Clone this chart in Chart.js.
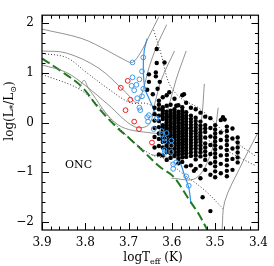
<!DOCTYPE html>
<html><head><meta charset="utf-8">
<script src="https://cdn.jsdelivr.net/npm/chart.js@4.4.0/dist/chart.umd.min.js"></script>
<style>body{margin:0;background:#fff}</style>
</head><body>
<canvas id="c" width="274" height="266"></canvas>
<script>
// evolutionary tracks (logTeff, logL)
const trackSolid = [
  [[3.9,1.88],[3.808,1.69],[3.747,1.44],[3.707,1.25],[3.691,1.21],[3.673,1.40],[3.653,1.73],[3.630,2.13]],
  [[3.9,1.44],[3.844,1.40],[3.770,1.10],[3.709,0.63],[3.680,0.40],[3.666,0.68],[3.653,1.10],[3.635,1.54],[3.612,1.97]],
  [[3.9,1.16],[3.844,1.01],[3.799,0.74],[3.747,0.36],[3.687,-0.08],[3.653,-0.04],[3.639,0.40],[3.624,0.87],[3.594,1.44]],
  [[3.815,0.68],[3.803,0.85],[3.792,0.68],[3.725,-0.04],[3.646,-0.21],[3.624,-0.17],[3.608,0.30],[3.590,0.87],[3.567,1.44]],
  [[3.646,-0.65],[3.579,-0.70],[3.545,-0.46],[3.532,0.02],[3.525,0.78]],
  [[3.601,-1.12],[3.545,-1.12],[3.511,-0.65],[3.500,-0.17],[3.493,0.30]],
  [[3.403,-0.23],[3.444,-0.93],[3.478,-1.59],[3.484,-2.16]]
];
// isochrones
const isoDotted = [
  [[3.642,1.86],[3.624,1.35],[3.606,0.78],[3.579,0.49],[3.534,0.27],[3.466,-0.30],[3.406,-0.68]],
  [[3.9,1.39],[3.844,1.31],[3.799,1.02],[3.747,0.68],[3.696,0.40],[3.657,0.38],[3.612,0.15],[3.523,-0.32],[3.455,-0.65],[3.406,-0.87]],
  [[3.9,0.97],[3.815,0.68],[3.770,0.34],[3.725,-0.08],[3.684,-0.42],[3.646,-0.65],[3.612,-0.74],[3.583,-0.97],[3.523,-1.37],[3.482,-1.73]]
];
const zamsLine = [[3.9,1.29],[3.860,1.06],[3.808,0.72],[3.770,0.30],[3.729,-0.08],[3.698,-0.32],[3.669,-0.55],[3.628,-0.89],[3.597,-1.08],[3.561,-1.54],[3.538,-1.84],[3.518,-2.16]];
const blueLine = [[3.657,1.69],[3.664,1.44],[3.666,1.06],[3.662,0.68],[3.653,0.49],[3.642,0.27],[3.628,0.02],[3.612,-0.30],[3.590,-0.61],[3.579,-0.84],[3.572,-1.03],[3.561,-1.31],[3.556,-1.63]];

const redStars = [[3.702,0.84],[3.718,0.70],[3.696,0.46],[3.707,0.25],[3.687,0.02],[3.676,-0.13],[3.646,-0.40]];
const blueStars = [[3.691,1.21],[3.666,1.31],[3.669,1.03],[3.691,0.91],[3.675,0.87],[3.693,0.74],[3.682,0.76],[3.687,0.65],[3.666,0.68],[3.669,0.53],[3.680,0.49],[3.675,0.30],[3.673,0.25],[3.657,0.11],[3.655,0.02],[3.635,0.08],[3.653,0.15],[3.642,-0.13],[3.624,-0.17],[3.612,-0.21],[3.624,-0.23],[3.617,-0.32],[3.617,-0.38],[3.601,-0.36],[3.601,-0.46],[3.617,-0.55],[3.617,-0.61],[3.601,-0.59],[3.590,-0.80],[3.597,-0.84],[3.597,-0.93],[3.567,-1.08],[3.561,-1.27]];

// spectroscopic sample, grouped by spectral-type Teff column
const blackTeff = [3.640,3.630,3.621,3.612,3.603,3.594,3.585,3.576,3.567,3.556,3.545,3.534,3.523,3.511,3.500,3.487,3.473,3.460,3.448];
const blackLogL = [
  [0.30,0.17,0.04,-0.11,-0.29,-0.50],
  [0.44,0.36,0.27,0.14,0.03,-0.09,-0.22,-0.33,-0.47,-0.64],
  [0.51,0.31,0.25,0.19,0.12,0.07,-0.05,-0.10,-0.16,-0.21,-0.27,-0.33,-0.39,-0.50,-0.66],
  [0.55,0.34,0.22,0.16,0.11,0.05,0.00,-0.06,-0.12,-0.17,-0.23,-0.28,-0.34,-0.40,-0.46,-0.52,-0.59,-0.75],
  [0.36,0.24,0.18,0.13,0.07,0.01,-0.04,-0.10,-0.15,-0.21,-0.26,-0.32,-0.38,-0.43,-0.49,-0.55,-0.62,-0.71],
  [0.48,0.27,0.20,0.14,0.09,0.03,-0.02,-0.08,-0.13,-0.19,-0.25,-0.30,-0.36,-0.42,-0.47,-0.53,-0.60,-0.67],
  [0.35,0.22,0.16,0.11,0.05,-0.01,-0.07,-0.12,-0.18,-0.24,-0.29,-0.35,-0.41,-0.46,-0.52,-0.58,-0.65,-0.73,-0.82],
  [0.55,0.31,0.24,0.18,0.12,0.06,0.00,-0.05,-0.11,-0.17,-0.22,-0.28,-0.34,-0.40,-0.45,-0.51,-0.57,-0.63,-0.70,-0.79],
  [0.40,0.21,0.14,0.08,0.02,-0.04,-0.10,-0.15,-0.21,-0.27,-0.33,-0.38,-0.44,-0.50,-0.56,-0.62,-0.69,-0.88],
  [0.30,0.14,0.07,0.01,-0.05,-0.11,-0.17,-0.23,-0.29,-0.35,-0.41,-0.47,-0.53,-0.60,-0.67,-0.86],
  [0.27,0.10,0.03,-0.04,-0.10,-0.16,-0.22,-0.28,-0.34,-0.40,-0.46,-0.52,-0.59,-0.66,-0.74,-0.93],
  [0.20,0.02,-0.06,-0.13,-0.20,-0.27,-0.33,-0.39,-0.46,-0.53,-0.60,-0.68,-0.87],
  [0.12,-0.05,-0.12,-0.19,-0.30,-0.42,-0.50,-0.58,-0.66,-0.75,-0.95],
  [0.09,-0.11,-0.28,-0.45,-0.63,-0.82,-1.05],
  [-0.05,-0.14,-0.22,-0.30,-0.38,-0.46,-0.54,-0.62,-0.70,-0.79,-0.88,-0.98,-1.10],
  [0.05,-0.20,-0.35,-0.50,-0.66,-0.83,-1.02],
  [-0.08,-0.17,-0.28,-0.36,-0.45,-0.55,-0.65,-0.75,-0.86,-0.97,-1.08],
  [-0.12,-0.32,-0.52,-0.73,-0.95],
  [-0.30,-0.40,-0.50,-0.60,-0.70,-0.80]
];
// isolated members outside the main clump
const blackScatter = [[3.635,1.48],[3.635,1.20],[3.617,1.21],[3.637,1.01],[3.637,0.93],[3.653,0.97],[3.628,0.82],[3.653,0.82],[3.633,0.68],[3.657,0.66],[3.644,0.57],[3.606,0.61],[3.572,0.57],[3.590,0.34],[3.549,-0.97],[3.534,-1.12],[3.529,-1.50],[3.511,-1.78],[3.482,0.11],[3.478,0.06]];

const xTicks = [3.9,3.8,3.7,3.6,3.5,3.4];
const yTicks = [2,1,0,-1,-2];

const pts = a => a.map(p => ({x:p[0], y:p[1]}));
const blackPts = pts(blackScatter);
blackTeff.forEach((t,i) => blackLogL[i].forEach(l => blackPts.push({x:t, y:l})));

const lineSet = (d, color, width, dash) => ({
  data: pts(d), showLine: true, borderColor: color, borderWidth: width,
  borderDash: dash, pointRadius: 0, tension: 0.35, fill: false, order: 5
});

const datasets = [];
trackSolid.forEach(t => datasets.push(lineSet(t, '#777', 0.8, [])));
isoDotted.forEach(t => datasets.push(lineSet(t, '#222', 0.9, [1, 2])));
datasets.push(lineSet(zamsLine, '#1f7a1f', 2, [9, 4]));
datasets.push(lineSet(blueLine, '#2b8ff0', 1.2, []));
datasets.push({data: blackPts, pointRadius: 2.2, pointBackgroundColor: '#000', pointBorderWidth: 0, showLine: false, order: 3});
datasets.push({data: pts(blueStars), pointRadius: 2.4, pointBackgroundColor: 'rgba(0,0,0,0)', pointBorderColor: '#3a9af0', pointBorderWidth: 1, showLine: false, order: 1});
datasets.push({data: pts(redStars), pointRadius: 2.4, pointBackgroundColor: 'rgba(0,0,0,0)', pointBorderColor: '#e8201c', pointBorderWidth: 1, showLine: false, order: 1});

const serif = '"DejaVu Serif", "Liberation Serif", serif';

// frame, inward ticks and axis titles
const framePlugin = {
  id: 'frame',
  afterDraw(chart) {
    const {ctx, chartArea: a, scales: {x, y}} = chart;
    ctx.save();
    ctx.strokeStyle = '#000';
    ctx.lineWidth = 1.2;
    ctx.strokeRect(a.left, a.top, a.right - a.left, a.bottom - a.top);
    ctx.lineWidth = 1;
    ctx.beginPath();
    for (let v = 3.4; v <= 3.9001; v += 0.02) {
      const px = Math.round(x.getPixelForValue(v)) + 0.5;
      const major = Math.abs(v * 10 - Math.round(v * 10)) < 0.01;
      const len = major ? 7 : 3.5;
      ctx.moveTo(px, a.bottom); ctx.lineTo(px, a.bottom - len);
      ctx.moveTo(px, a.top); ctx.lineTo(px, a.top + len);
    }
    for (let v = -2; v <= 2.0001; v += 0.2) {
      const py = Math.round(y.getPixelForValue(v)) + 0.5;
      const major = Math.abs(v - Math.round(v)) < 0.01;
      const len = major ? 7 : 3.5;
      ctx.moveTo(a.left, py); ctx.lineTo(a.left + len, py);
      ctx.moveTo(a.right, py); ctx.lineTo(a.right - len, py);
    }
    ctx.stroke();

    ctx.fillStyle = '#000';
    ctx.textBaseline = 'alphabetic';
    // x title
    ctx.font = '12px ' + serif;
    const w1 = ctx.measureText('logT').width;
    ctx.font = '8px ' + serif;
    const w2 = ctx.measureText('eff').width;
    ctx.font = '12px ' + serif;
    const w3 = ctx.measureText(' (K)').width;
    let sx = 153 - (w1 + w2 + w3) / 2;
    ctx.fillText('logT', sx, 261);
    ctx.font = '8px ' + serif;
    ctx.fillText('eff', sx + w1, 264);
    ctx.font = '12px ' + serif;
    ctx.fillText(' (K)', sx + w1 + w2, 261);

    // y title
    ctx.save();
    ctx.translate(13, 111);
    ctx.rotate(-Math.PI / 2);
    const parts = [['log(L', 12, 0], ['*', 9, 3], ['/L', 12, 0], ['\u2299', 8, 3], [')', 12, 0]];
    let tw = 0;
    parts.forEach(p => { ctx.font = p[1] + 'px ' + serif; tw += ctx.measureText(p[0]).width; });
    let cx = -tw / 2;
    parts.forEach(p => {
      ctx.font = p[1] + 'px ' + serif;
      ctx.fillText(p[0], cx, p[2]);
      cx += ctx.measureText(p[0]).width;
    });
    ctx.restore();

    ctx.font = '11px ' + serif;
    ctx.fillText('ONC', 65, 168);
    ctx.restore();
  }
};

new Chart(document.getElementById('c'), {
  type: 'scatter',
  data: {datasets},
  options: {
    responsive: false,
    animation: false,
    layout: {padding: {top: 2, right: 9, left: 0, bottom: 0}},
    plugins: {legend: {display: false}, tooltip: {enabled: false}},
    scales: {
      x: {
        type: 'linear', min: 3.4, max: 3.9, reverse: true,
        afterFit: s => { s.height = 36; },
        afterBuildTicks: s => { s.ticks = xTicks.map(v => ({value: v})); },
        grid: {display: false, drawTicks: false},
        border: {display: false},
        ticks: {padding: 6, color: '#000', font: {family: serif, size: 12}, callback: v => v.toFixed(1), maxRotation: 0}
      },
      y: {
        type: 'linear', min: -2.16, max: 2.16,
        afterFit: s => { s.width = 42; },
        afterBuildTicks: s => { s.ticks = yTicks.map(v => ({value: v})); },
        grid: {display: false, drawTicks: false},
        border: {display: false},
        ticks: {padding: 8, color: '#000', font: {family: serif, size: 12}, callback: v => (v < 0 ? '\u2212' + Math.abs(v) : String(v))}
      }
    }
  },
  plugins: [framePlugin]
});
</script>
</body></html>
